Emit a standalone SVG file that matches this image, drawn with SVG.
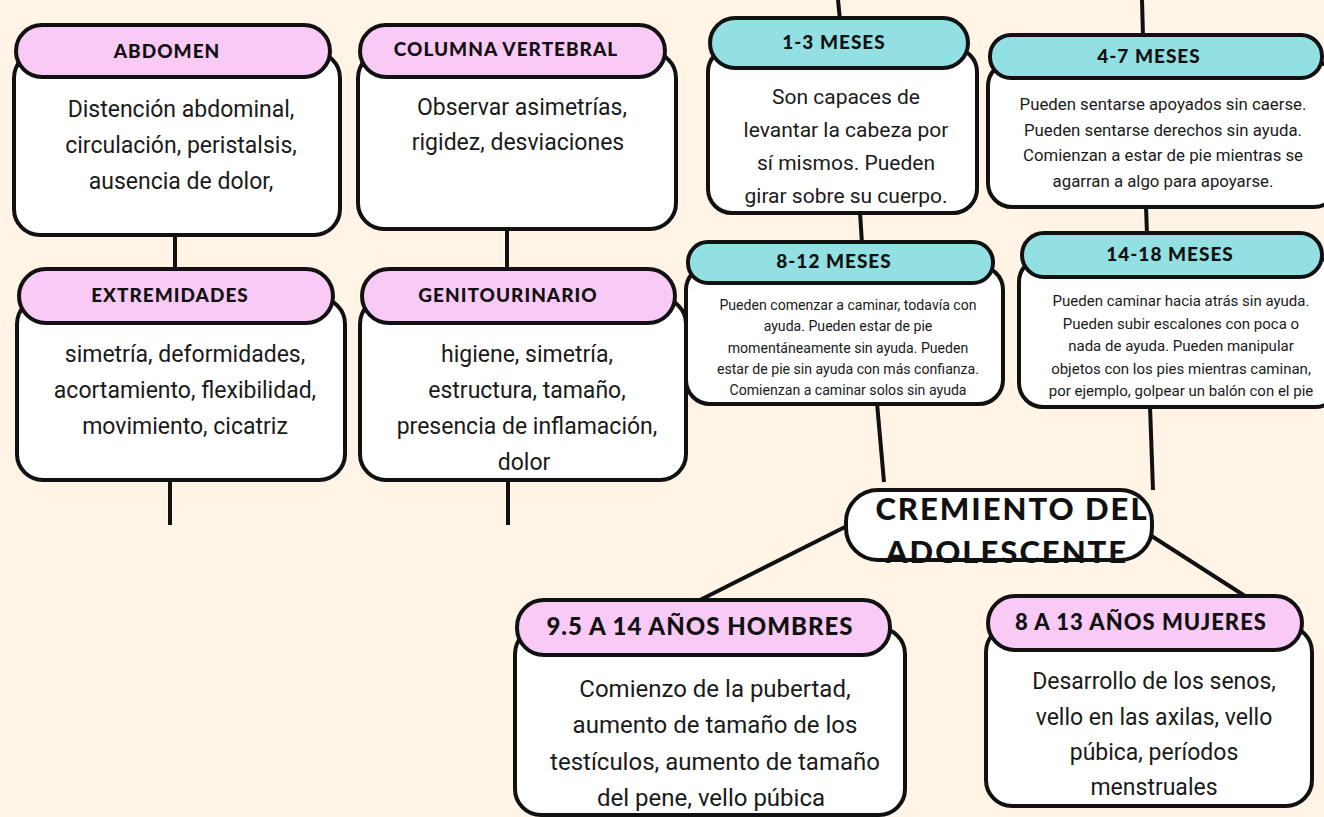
<svg xmlns="http://www.w3.org/2000/svg" width="1324" height="817" viewBox="0 0 1324 817">
<style>
.bg{fill:#FFF4E6}
.body{fill:#FFFFFF;stroke:#111;stroke-width:4}
.hp{fill:#F9CAF6;stroke:#111;stroke-width:4}
.hc{fill:#93E0E3;stroke:#111;stroke-width:4}
.ht{font-family:Lato,"Open Sans",sans-serif;font-weight:900;font-size:19px;fill:#111;text-anchor:middle;letter-spacing:1px}
.tx{font-family:Roboto,"Noto Sans",sans-serif;fill:#1a1a1a;text-anchor:middle}
.t22{font-size:23px}
.t21{font-size:21px}
.t16{font-size:15px}
.t17{font-size:16.8px}
.t14{font-size:14.1px}
.t24{font-size:24px}
.ln{stroke:#111;stroke-width:4;fill:none}
.ct{font-family:Lato,"Open Sans",sans-serif;font-weight:900;font-size:31px;fill:#111;text-anchor:middle;letter-spacing:2px}
</style>
<rect class="bg" x="0" y="0" width="1324" height="817"/>
<g id="connectors">
<line class="ln" x1="175" y1="235" x2="175" y2="270"/>
<line class="ln" x1="170" y1="480" x2="170" y2="525"/>
<line class="ln" x1="507" y1="229" x2="507" y2="270"/>
<line class="ln" x1="508" y1="480" x2="508" y2="525"/>
<line class="ln" x1="838" y1="0" x2="840" y2="20"/>
<line class="ln" x1="860" y1="212" x2="862" y2="244"/>
<line class="ln" x1="1142" y1="0" x2="1143" y2="36"/>
<line class="ln" x1="1146" y1="206" x2="1147" y2="235"/>
<line class="ln" x1="877" y1="403" x2="884" y2="482"/>
<line class="ln" x1="1150" y1="406" x2="1153" y2="490"/>
<line class="ln" x1="845" y1="527" x2="700" y2="600"/>
<line class="ln" x1="1150" y1="535" x2="1245" y2="596"/>
</g>
<g id="abdomen">
<rect class="body" x="14" y="52" width="326" height="183" rx="26"/>
<rect class="hp" x="16" y="25" width="314" height="52" rx="26"/>
<text class="ht" x="167" y="58">ABDOMEN</text>
<text class="tx t22" x="181" y="117">Distención abdominal,</text>
<text class="tx t22" x="181" y="153">circulación, peristalsis,</text>
<text class="tx t22" x="181" y="189">ausencia de dolor,</text>
</g>
<g id="columna">
<rect class="body" x="358" y="52" width="318" height="177" rx="26"/>
<rect class="hp" x="360" y="25" width="305" height="52" rx="26"/>
<text class="ht" x="506" y="56">COLUMNA VERTEBRAL</text>
<text class="tx t22" x="522" y="115">Observar asimetrías,</text>
<text class="tx t22" x="518" y="150">rigidez,  desviaciones</text>
</g>
<g id="m1-3">
<rect class="body" x="708" y="48" width="269" height="165" rx="24"/>
<rect class="hc" x="710" y="18" width="258" height="50" rx="25"/>
<text class="ht" x="834" y="49">1-3 MESES</text>
<text class="tx t21" x="846" y="104">Son capaces de</text>
<text class="tx t21" x="846" y="137">levantar la cabeza por</text>
<text class="tx t21" x="846" y="170">sí mismos. Pueden</text>
<text class="tx t21" x="846" y="203">girar sobre su cuerpo.</text>
</g>
<g id="m4-7">
<rect class="body" x="988" y="62" width="350" height="145" rx="24"/>
<rect class="hc" x="990" y="35" width="332" height="43" rx="21"/>
<text class="ht" x="1149" y="63">4-7 MESES</text>
<text class="tx t17" x="1163" y="110">Pueden sentarse apoyados sin caerse.</text>
<text class="tx t17" x="1163" y="136">Pueden sentarse derechos sin ayuda.</text>
<text class="tx t17" x="1163" y="161">Comienzan a estar de pie mientras se</text>
<text class="tx t17" x="1163" y="187">agarran a algo para apoyarse.</text>
</g>
<g id="m8-12">
<rect class="body" x="686" y="266" width="317" height="138" rx="24"/>
<rect class="hc" x="688" y="242" width="305" height="41" rx="20"/>
<text class="ht" x="834" y="268">8-12 MESES</text>
<text class="tx t14" x="848" y="310">Pueden comenzar a caminar, todavía con</text>
<text class="tx t14" x="848" y="331">ayuda.  Pueden estar de pie</text>
<text class="tx t14" x="848" y="353">momentáneamente sin ayuda. Pueden</text>
<text class="tx t14" x="848" y="374">estar de pie sin ayuda con más confianza.</text>
<text class="tx t14" x="848" y="395">Comienzan a caminar solos sin ayuda</text>
</g>
<g id="m14-18">
<rect class="body" x="1019" y="258" width="320" height="149" rx="24"/>
<rect class="hc" x="1022" y="233" width="300" height="44" rx="22"/>
<text class="ht" x="1170" y="261">14-18 MESES</text>
<text class="tx t16" x="1181" y="306">Pueden caminar hacia atrás sin ayuda.</text>
<text class="tx t16" x="1181" y="329">Pueden subir escalones con poca o</text>
<text class="tx t16" x="1181" y="351">nada de ayuda.  Pueden manipular</text>
<text class="tx t16" x="1181" y="374">objetos con los pies mientras caminan,</text>
<text class="tx t16" x="1181" y="396">por ejemplo, golpear un balón con el pie</text>
</g>
<g id="extremidades">
<rect class="body" x="17" y="298" width="328" height="182" rx="26"/>
<rect class="hp" x="19" y="269" width="314" height="54" rx="27"/>
<text class="ht" x="170" y="302">EXTREMIDADES</text>
<text class="tx t22" x="185" y="362">simetría, deformidades,</text>
<text class="tx t22" x="185" y="398">acortamiento, flexibilidad,</text>
<text class="tx t22" x="185" y="434">movimiento, cicatriz</text>
</g>
<g id="genitourinario">
<rect class="body" x="360" y="298" width="326" height="182" rx="26"/>
<rect class="hp" x="362" y="269" width="313" height="54" rx="27"/>
<text class="ht" x="508" y="302">GENITOURINARIO</text>
<text class="tx t22" x="527" y="362">higiene, simetría,</text>
<text class="tx t22" x="527" y="398">estructura, tamaño,</text>
<text class="tx t22" x="527" y="434">presencia de inflamación,</text>
<text class="tx t22" x="524" y="470">dolor</text>
</g>
<g id="centro">
<rect class="body" x="846" y="490" width="306" height="70" rx="32"/>
<text class="ct" x="1012" y="520">CREMIENTO DEL</text>
<text class="ct" x="1007" y="563">ADOLESCENTE</text>
</g>
<g id="hombres">
<rect class="body" x="515" y="628" width="390" height="187" rx="26"/>
<rect class="hp" x="517" y="600" width="373" height="55" rx="27"/>
<text class="ht" x="700" y="635" style="font-size:24px">9.5 A 14 AÑOS HOMBRES</text>
<text class="tx t24" x="715" y="697">Comienzo de la pubertad,</text>
<text class="tx t24" x="715" y="733">aumento de tamaño de los</text>
<text class="tx t24" x="715" y="770">testículos, aumento de tamaño</text>
<text class="tx t24" x="711" y="806">del pene, vello púbica</text>
</g>
<g id="mujeres">
<rect class="body" x="986" y="626" width="326" height="180" rx="26"/>
<rect class="hp" x="988" y="596" width="314" height="54" rx="27"/>
<text class="ht" x="1141" y="630" style="font-size:22px">8 A 13 AÑOS MUJERES</text>
<text class="tx t22" x="1154" y="689">Desarrollo de los senos,</text>
<text class="tx t22" x="1154" y="725">vello en las axilas, vello</text>
<text class="tx t22" x="1154" y="760">púbica, períodos</text>
<text class="tx t22" x="1154" y="795">menstruales</text>
</g>
</svg>
